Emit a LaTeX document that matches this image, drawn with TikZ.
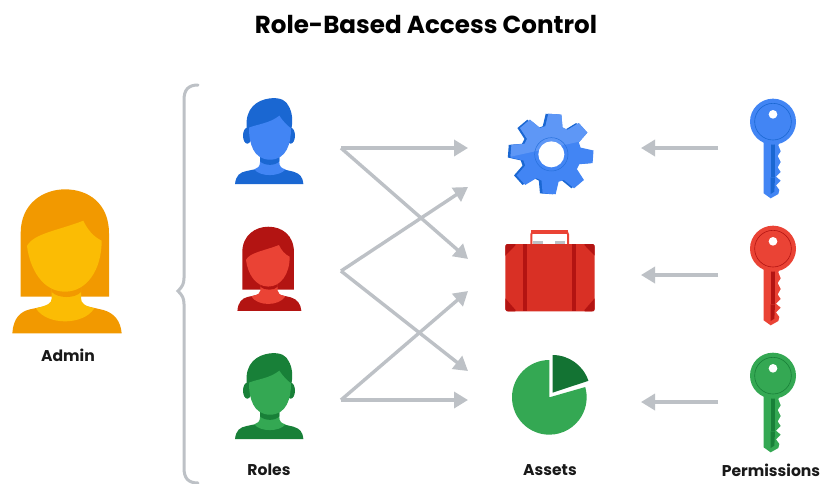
\documentclass[tikz,border=0pt]{standalone}
\usepackage{fontspec}
\setmainfont{Poppins}
\usetikzlibrary{arrows.meta}
\definecolor{arrowgrey}{HTML}{BDC1C6}
\definecolor{gBlue}{HTML}{4285F4}\definecolor{gBlueD}{HTML}{1A67D2}\definecolor{gBlueL}{HTML}{5E97F6}
\definecolor{gRed}{HTML}{EA4335}\definecolor{gRedD}{HTML}{B31412}\definecolor{gRedM}{HTML}{D93025}
\definecolor{gGreen}{HTML}{34A853}\definecolor{gGreenD}{HTML}{188038}\definecolor{gGreenP}{HTML}{137333}
\definecolor{gYel}{HTML}{FBBC04}\definecolor{gYelD}{HTML}{F29900}
\tikzset{
  flow/.style={draw=arrowgrey,line width=3.4pt,-{Triangle[length=14pt,width=16pt]},line join=round},
  label/.style={font=\bfseries\fontsize{15.6}{17}\selectfont,text=black!90,inner sep=0pt},
}
\newcommand{\manicon}[5]{% shift, scale, dark, light
\begin{scope}[shift={(#1,#2)},scale=#3]
 \fill[#4] (45,297) .. controls (48,270) and (60,262) .. (80,258) -- (118,250) -- (178,250) -- (220,260) .. controls (240,266) and (248,275) .. (250,297) -- cycle;
 \fill[#4] (82,152) ellipse[x radius=13,y radius=24];
 \fill[#4] (212,152) ellipse[x radius=13,y radius=24];
 \fill[#5] (120,200) -- (120,232) .. controls (120,245) and (112,250) .. (103,253) .. controls (120,276) and (178,276) .. (197,253) .. controls (185,250) and (178,245) .. (178,232) -- (178,200) -- cycle;
 \fill[#4] (120,210) -- (120,229) .. controls (135,243) and (165,243) .. (178,229) -- (178,210) -- cycle;
 \fill[#4] (80,128) .. controls (75,70) and (110,45) .. (150,40) .. controls (185,36) and (200,50) .. (205,62) .. controls (217,80) and (220,110) .. (213,135) -- (87,135) -- cycle;
 \fill[#5] (87,128) .. controls (110,118) and (150,115) .. (178,92) .. controls (190,110) and (200,120) .. (213,130) .. controls (213,175) and (200,224) .. (150,224) .. controls (100,224) and (87,175) .. (87,128) -- cycle;
\end{scope}}
\newcommand{\womanicon}[5]{%
\begin{scope}[shift={(#1,#2)},scale=#3]
 \fill[#4] (37,490) .. controls (40,445) and (60,425) .. (90,418) -- (150,405) -- (245,405) -- (310,420) .. controls (345,430) and (362,455) .. (365,490) -- cycle;
 \fill[#4] (62,380) -- (62,190) .. controls (62,100) and (130,58) .. (195,58) .. controls (265,58) and (327,100) .. (327,190) -- (327,380) -- cycle;
 \fill[#5] (155,350) -- (155,385) .. controls (155,400) and (145,405) .. (108,415) .. controls (140,467) and (250,467) .. (283,415) .. controls (255,408) and (243,400) .. (243,385) -- (243,350) -- cycle;
 \fill[#4] (155,345) -- (155,366) .. controls (175,386) and (225,386) .. (243,366) -- (243,345) -- cycle;
 \fill[#5] (81,228) .. controls (100,190) and (180,180) .. (250,152) .. controls (262,178) and (280,200) .. (305,212) .. controls (305,300) and (260,365) .. (195,365) .. controls (130,365) and (90,300) .. (81,228) -- cycle;
\end{scope}}
\newcommand{\keyicon}[4]{% x y main dark
\begin{scope}[shift={(#1,#2)},scale=1/3]
 \fill[#3] (101,150) -- (101,310) -- (122,325) -- (145,312) -- (148,300) -- (138,286) -- (152,272) -- (138,260) -- (152,246) -- (143,232) -- (152,216) -- (143,198) -- (152,184) -- (145,166) -- (150,150) -- cycle;
 \fill[#4] (122,160) rectangle (135,262);
 \fill[#4] (122,262) -- (135,262) -- (133,305) -- (122,312) -- cycle;
 \fill[#3] (129,95) circle[radius=69];
 \draw[#4,line width=.6pt] (129,95) circle[radius=55];
 \fill[white] (129,73) circle[radius=13];
\end{scope}}
\newcommand{\gearshape}{(-17:88) \foreach \a in {0,45,...,315}{ -- (\a-17:88) -- (\a-9:125) -- (\a+9:125) -- (\a+17:88) .. controls (\a+22.5:85) .. (\a+28:88)} -- cycle}
\begin{document}
\begin{tikzpicture}[x=1pt,y=-1pt]
\useasboundingbox (0,0) rectangle (821,483);
\fill[white] (0,0) rectangle (821,483);
\node[font=\bfseries\fontsize{24.6}{28}\selectfont,inner sep=0pt,text=black] (title) at (426,24) {Role-Based Access Control};
% brace
\draw[arrowgrey,line width=3pt,line cap=round] (198,85) .. controls (188,85) and (184,90) .. (184,100) -- (184,278) .. controls (184,284) and (182,287) .. (178,291) .. controls (182,295) and (184,298) .. (184,304) -- (184,468) .. controls (184,478) and (188,483) .. (198,483);
% people
\womanicon{0}{170}{1/3}{gYelD}{gYel}
\manicon{220}{85}{1/3}{gBlueD}{gBlue}
\womanicon{230.2}{215.4}{.195}{gRedD}{gRed}
\manicon{220}{340}{1/3}{gGreenD}{gGreen}
% gear
\begin{scope}[shift={(490,100)},scale=1/3]
 \begin{scope}[shift={(178,162)},yscale=.97,rotate=-4]\fill[gBlueD] \gearshape;\end{scope}
 \begin{scope}[shift={(186,162)},yscale=.97,rotate=-4]\fill[gBlue] \gearshape;
   \begin{scope}\clip \gearshape;
   \fill[gBlueL] (-140,22) -- (100,-50) -- (150,-50) -- (150,-150) -- (-150,-150) -- cycle;\end{scope}
 \end{scope}
 \draw[gBlueD!70!gBlue,line width=.5pt] (184,163) circle[radius=50];
 \fill[white] (184,163) circle[radius=39];
\end{scope}
% suitcase
\begin{scope}[shift={(490,220)},scale=1/3]
 \fill[arrowgrey] (130,62) rectangle (160,74);
 \fill[arrowgrey] (195,62) rectangle (225,74);
 \draw[gRed,line width=2pt,rounded corners=3pt] (124,72) -- (124,34) -- (234,34) -- (234,72);
 \fill[gRed] (124,30) rectangle (234,43);
 \fill[gRedM] (46,72) [rounded corners=3pt] -- (46,274) -- (314,274) -- (314,72) -- cycle;
 \fill[gRedD] (100,72) rectangle (111,274);
 \fill[gRedD] (247,72) rectangle (258,274);
 \fill[gRedD] (46,107) [rounded corners=1.5pt] -- (46,72) -- (80,72) [sharp corners] -- cycle;
 \fill[gRedD] (314,107) [rounded corners=1.5pt] -- (314,72) -- (280,72) [sharp corners] -- cycle;
 \fill[gRedD] (46,235) [rounded corners=1.5pt] -- (46,274) -- (80,274) [sharp corners] -- cycle;
 \fill[gRedD] (314,235) [rounded corners=1.5pt] -- (314,274) -- (280,274) [sharp corners] -- cycle;
\end{scope}
% pie
\begin{scope}[shift={(490,345)},scale=1/3]
 \fill[gGreen] (178,157) -- ++(-90:112) arc[start angle=-90,end angle=-376,radius=112] -- cycle;
 \fill[gGreenP] (188,143) -- ++(-90:113) arc[start angle=-90,end angle=-18.4,radius=113] -- cycle;
\end{scope}
% keys
\keyicon{730}{90}{gBlue}{gBlueD}
\keyicon{730}{217}{gRed}{gRedD}
\keyicon{730}{344}{gGreen}{gGreenD}
% connectors
\coordinate (r1) at (341,148); \coordinate (r2) at (341,271); \coordinate (r3) at (341,400);
\coordinate (a1a) at (468,148); \coordinate (a1b) at (468,187);
\coordinate (a2a) at (468,259); \coordinate (a2b) at (468,291);
\coordinate (a3a) at (468,371); \coordinate (a3b) at (468,400);
\coordinate (k1) at (718,148); \coordinate (g1) at (641,148);
\coordinate (k2) at (718,275); \coordinate (g2) at (641,275);
\coordinate (k3) at (718,402); \coordinate (g3) at (641,402);
\foreach \s/\t in {r1/a1a,r1/a2a,r2/a1b,r2/a3a,r3/a2b,r3/a3b,k1/g1,k2/g2,k3/g3}
  \draw[flow] (\s) -- (\t);
% labels
\node[label] (admin) at (68,355) {Admin};
\node[label] (roles) at (269,470) {Roles};
\node[label] (assets) at (550,470) {Assets};
\node[label] (perm) at (771,470) {Permissions};
\end{tikzpicture}
\end{document}
